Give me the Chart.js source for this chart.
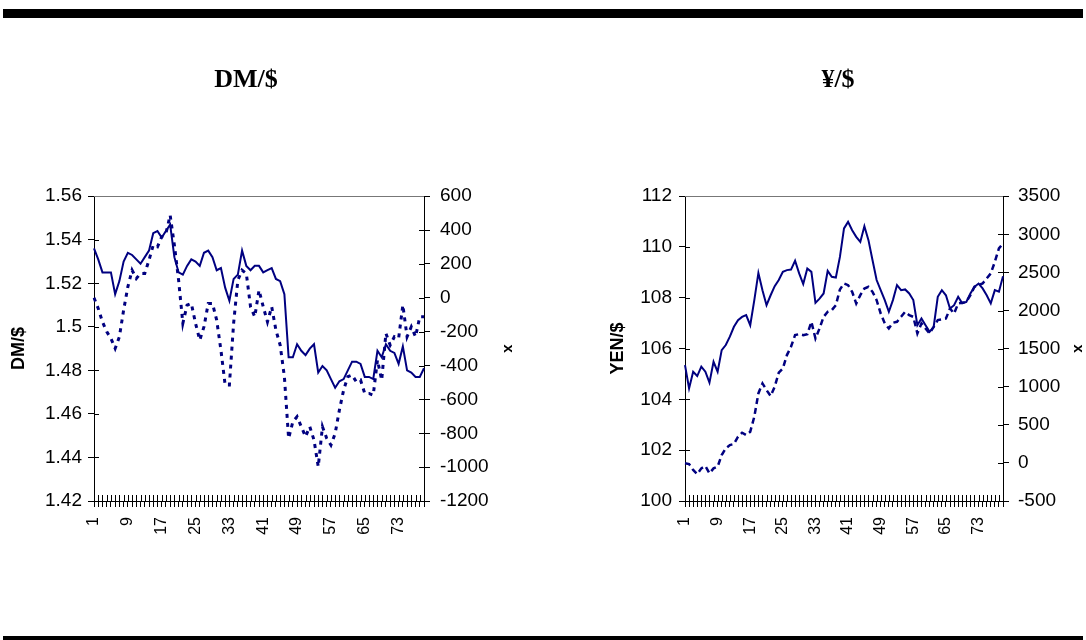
<!DOCTYPE html>
<html>
<head>
<meta charset="utf-8">
<script src="https://cdn.jsdelivr.net/npm/chart.js@4/dist/chart.umd.min.js"></script>
<style>
  html, body { margin: 0; padding: 0; background: #fff; overflow: hidden; }
  body { width: 1086px; height: 640px; position: relative; }
  .rule { position: absolute; left: 3px; width: 1080px; background: #000; z-index: 2; }
  #top-rule { top: 9px; height: 9px; }
  #bottom-rule { top: 636px; height: 6px; }
  canvas { position: absolute; top: 0; }
  #dm-chart { left: -24px; }
  #yen-chart { left: 590px; }
</style>
</head>
<body>
<div class="rule" id="top-rule"></div>
<div class="rule" id="bottom-rule"></div>
<canvas id="dm-chart" width="540" height="620"></canvas>
<canvas id="yen-chart" width="496" height="620"></canvas>
<script>
const periods = Array.from({ length: 79 }, (_, i) => String(i + 1));

const dmRate = [
  1.536, 1.531, 1.525, 1.525, 1.525, 1.515, 1.521, 1.530, 1.534, 1.533,
  1.531, 1.529, 1.532, 1.535, 1.543, 1.544, 1.541, 1.544, 1.547, 1.532,
  1.525, 1.524, 1.528, 1.531, 1.530, 1.528, 1.534, 1.535, 1.532, 1.526,
  1.527, 1.518, 1.512, 1.522, 1.524, 1.535, 1.528, 1.526, 1.528, 1.528,
  1.525, 1.526, 1.527, 1.522, 1.521, 1.515, 1.486, 1.486, 1.492, 1.489,
  1.487, 1.490, 1.492, 1.479, 1.482, 1.480, 1.476, 1.472, 1.475, 1.476,
  1.480, 1.484, 1.484, 1.483, 1.477, 1.477, 1.476, 1.489, 1.486, 1.492,
  1.489, 1.488, 1.483, 1.491, 1.480, 1.479, 1.477, 1.477, 1.481,
];
const dmX = [
  0, -63, -142, -200, -240, -299, -230, -73, 65, 163,
  114, 144, 144, 222, 311, 301, 360, 380, 488, 311,
  104, -151, -43, -33, -151, -250, -171, -33, -33, -132,
  -309, -515, -515, -151, 104, 163, 144, -53, -112, 45,
  -53, -142, -53, -191, -279, -466, -830, -732, -702, -761,
  -820, -761, -840, -997, -761, -830, -870, -801, -663, -545,
  -466, -456, -496, -486, -565, -565, -575, -368, -486, -210,
  -279, -230, -240, -43, -230, -171, -230, -112, -112,
];
const yenRate = [
  105.35, 104.43, 105.09, 104.92, 105.29, 105.09, 104.66, 105.48, 105.09, 105.94,
  106.14, 106.47, 106.86, 107.12, 107.25, 107.32, 106.92, 107.91, 108.98, 108.30,
  107.71, 108.10, 108.46, 108.70, 109.02, 109.09, 109.11, 109.46, 108.96, 108.54,
  109.15, 109.02, 107.80, 107.97, 108.17, 109.06, 108.83, 108.80, 109.61, 110.73,
  110.99, 110.66, 110.40, 110.20, 110.82, 110.27, 109.48, 108.70, 108.30, 107.91,
  107.45, 107.91, 108.50, 108.30, 108.33, 108.17, 107.91, 106.92, 107.19, 106.92,
  106.66, 106.86, 108.04, 108.30, 108.10, 107.58, 107.71, 108.04, 107.78, 107.84,
  108.17, 108.43, 108.56, 108.37, 108.10, 107.78, 108.30, 108.24, 108.85,
];
const yenX = [
  -6, -15, -93, -146, -72, -41, -137, -72, -50, 103,
  191, 234, 248, 344, 396, 366, 409, 606, 912, 1043,
  956, 877, 1000, 1183, 1240, 1415, 1524, 1677, 1690, 1677,
  1690, 1852, 1633, 1765, 1917, 1983, 2005, 2070, 2276, 2355,
  2333, 2245, 2092, 2202, 2289, 2311, 2245, 2136, 1961, 1830,
  1765, 1839, 1852, 1917, 1983, 1939, 1917, 1699, 1830, 1765,
  1699, 1786, 1874, 1883, 1895, 2027, 1961, 2092, 2101, 2114,
  2202, 2311, 2333, 2355, 2420, 2486, 2639, 2814, 2879,
];

const dmTicks = [1.42, 1.44, 1.46, 1.48, 1.5, 1.52, 1.54, 1.56];
const dmXTicks = [-1200, -1000, -800, -600, -400, -200, 0, 200, 400, 600];
const yenTicks = [100, 102, 104, 106, 108, 110, 112];
const yenXTicks = [-500, 0, 500, 1000, 1500, 2000, 2500, 3000, 3500];

const NAVY = "#000080";
Chart.defaults.font.family = "'Liberation Sans', Arial, sans-serif";
Chart.defaults.color = "#000";

// Excel style: tick marks cross the axis line, thin frame on top of the plot
const crossTicks = {
  id: "crossTicks",
  afterDraw(chart) {
    const ctx = chart.ctx;
    const a = chart.chartArea;
    ctx.save();
    ctx.strokeStyle = "#000";
    ctx.lineWidth = 1;
    Object.values(chart.scales).forEach((s) => {
      s.ticks.forEach((t, i) => {
        const p = Math.round(s.getPixelForTick(i)) + 0.5;
        ctx.beginPath();
        if (s.isHorizontal()) {
          ctx.moveTo(p, a.bottom);
          ctx.lineTo(p, a.bottom - 6);
        } else if (s.position === "left") {
          ctx.moveTo(a.left, p);
          ctx.lineTo(a.left + 5, p);
        } else {
          ctx.moveTo(a.right, p);
          ctx.lineTo(a.right - 5, p);
        }
        ctx.stroke();
      });
    });
    ctx.strokeStyle = "#777";
    ctx.beginPath();
    ctx.moveTo(a.left, Math.round(a.top) + 0.5);
    ctx.lineTo(a.right, Math.round(a.top) + 0.5);
    ctx.stroke();
    ctx.restore();
  },
};

function fixedTicks(list) {
  return (scale) => {
    scale.ticks = list.map((v) => ({ value: v }));
  };
}

function yAxis(pos, list, width, title, titlePad, labelPad, titleSize) {
  return {
    type: "linear",
    position: pos,
    min: list[0],
    max: list[list.length - 1],
    afterBuildTicks: fixedTicks(list),
    afterFit: (s) => { s.width = width; },
    border: { color: "#000", width: 1 },
    grid: { drawOnChartArea: false, drawTicks: true, tickLength: 6, color: "#000" },
    ticks: {
      font: { size: 19 },
      padding: labelPad,
      callback: (v) => String(Number(v.toFixed(2))),
    },
    title: {
      display: true,
      text: title,
      font: { size: titleSize, weight: "bold", lineHeight: 1 },
      padding: { top: titlePad, bottom: 0 },
    },
  };
}

function buildChart(id, title, rate, xs, left, right) {
  return new Chart(document.getElementById(id), {
    type: "line",
    data: {
      labels: periods,
      datasets: [
        {
          label: title,
          data: rate,
          yAxisID: "y",
          borderColor: NAVY,
          borderWidth: 2,
          pointRadius: 0,
          tension: 0,
        },
        {
          label: "x",
          data: xs,
          yAxisID: "y1",
          borderColor: NAVY,
          borderWidth: right.lineWidth,
          borderDash: right.dash,
          pointRadius: 0,
          tension: 0,
        },
      ],
    },
    options: {
      responsive: false,
      animation: false,
      layout: { padding: 0 },
      plugins: {
        legend: { display: false },
        tooltip: { enabled: false },
        title: {
          display: true,
          text: title,
          color: "#000",
          font: { family: "'Liberation Serif', 'Times New Roman', serif", size: 26, weight: "bold" },
          padding: { top: 65, bottom: 100 },
        },
      },
      scales: {
        x: {
          type: "category",
          afterFit: (s) => { s.height = 119; },
          border: { color: "#000", width: 1 },
          grid: { drawOnChartArea: false, drawTicks: true, tickLength: 6, color: "#000" },
          ticks: {
            autoSkip: false,
            maxRotation: 90,
            minRotation: 90,
            padding: 10,
            font: { size: 16 },
            callback: (v, i) => (i % 8 === 0 ? periods[i] : ""),
          },
        },
        y: yAxis("left", left.ticks, left.width, left.title, left.titlePad, left.labelPad, 18),
        y1: yAxis("right", right.ticks, right.width, "x", right.titlePad, right.labelPad, 15),
      },
    },
    plugins: [crossTicks],
  });
}

buildChart("dm-chart", "DM/$", dmRate, dmX,
  { ticks: dmTicks, width: 118, title: "DM/$", titlePad: 34, labelPad: 6 },
  { ticks: dmXTicks, width: 92, titlePad: 0, labelPad: 10, lineWidth: 3, dash: [4, 5] });

buildChart("yen-chart", "¥/$", yenRate, yenX,
  { ticks: yenTicks, width: 95, title: "YEN/$", titlePad: 19, labelPad: 7 },
  { ticks: yenXTicks, width: 83, titlePad: 0, labelPad: 9, lineWidth: 2.5, dash: [6, 4] });
</script>
</body>
</html>
